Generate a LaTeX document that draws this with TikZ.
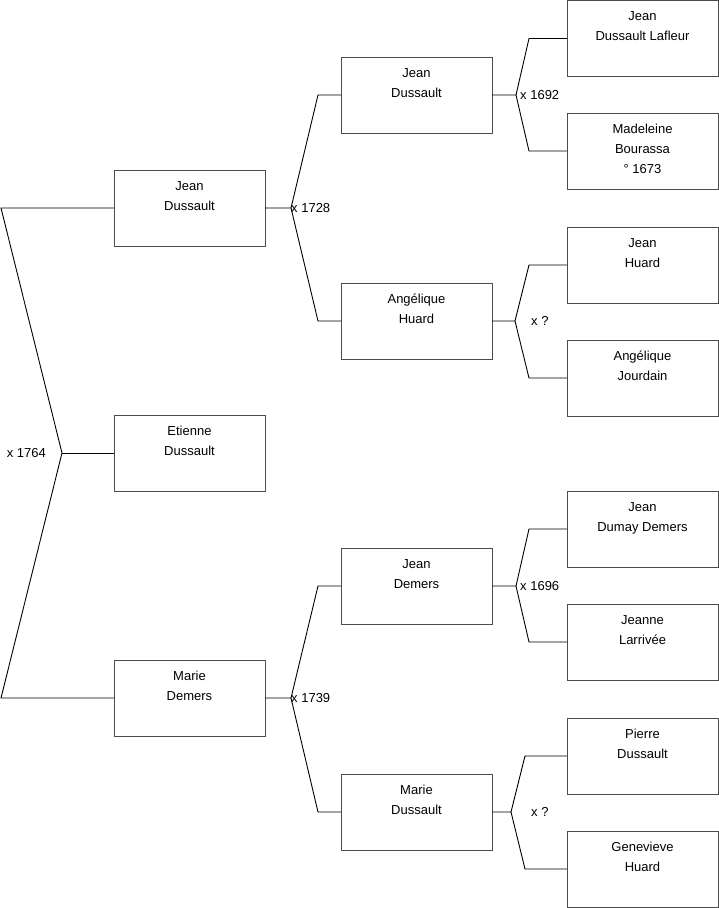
\documentclass[tikz,border=0pt]{standalone}
\usepackage{fontspec}
\setmainfont{Liberation Sans}
\newcommand\pcontent[1]{\parbox[t][76pt][t]{151pt}{\centering\rule{0pt}{20pt}#1}}
\begin{document}
\begin{tikzpicture}[x=1pt,y=-1pt,
  person/.style={draw=black!70, line width=1pt, inner sep=0pt, outer sep=0pt, anchor=north west,
                 font=\fontsize{13}{20}\selectfont},
  link/.style={draw=black, line width=0.9pt, line join=miter},
  mlabel/.style={font=\fontsize{13}{15}\selectfont, inner sep=0pt}]
\useasboundingbox (0,0) rectangle (719,908);

% generation 1
\node[person] (g1a) at (114,170) {\pcontent{Jean\\Dussault}};
\node[person] (g1e) at (114,415) {\pcontent{Etienne\\Dussault}};
\node[person] (g1m) at (114,660) {\pcontent{Marie\\Demers}};
% generation 2
\node[person] (g2a) at (341,57)  {\pcontent{Jean\\Dussault}};
\node[person] (g2b) at (341,283) {\pcontent{Angélique\\Huard}};
\node[person] (g2c) at (341,548) {\pcontent{Jean\\Demers}};
\node[person] (g2d) at (341,774) {\pcontent{Marie\\Dussault}};
% generation 3
\node[person] (g3a) at (567,0.5) {\pcontent{Jean\\Dussault Lafleur}};
\node[person] (g3b) at (567,113) {\pcontent{Madeleine\\Bourassa\\° 1673}};
\node[person] (g3c) at (567,227) {\pcontent{Jean\\Huard}};
\node[person] (g3d) at (567,340) {\pcontent{Angélique\\Jourdain}};
\node[person] (g3e) at (567,491) {\pcontent{Jean\\Dumay Demers}};
\node[person] (g3f) at (567,604) {\pcontent{Jeanne\\Larrivée}};
\node[person] (g3g) at (567,718) {\pcontent{Pierre\\Dussault}};
\node[person] (g3h) at (567,831) {\pcontent{Genevieve\\Huard}};

% junction points
\coordinate (v0)  at ([xshift=-52pt]g1e.west);
\coordinate (v0a) at ([xshift=-113pt]g1a.west);
\coordinate (v0b) at ([xshift=-113pt]g1m.west);
\coordinate (v1) at ([xshift=26pt]g1a.east);
\coordinate (v2) at ([xshift=26pt]g1m.east);
\coordinate (v3) at ([xshift=24pt]g2a.east);
\coordinate (v4) at ([xshift=23pt]g2b.east);
\coordinate (v5) at ([xshift=24pt]g2c.east);
\coordinate (v6) at ([xshift=19pt]g2d.east);

% main couple
\draw[link] (g1a.west) -- (v0a) -- (v0) -- (v0b) -- (g1m.west);
\draw[link] (v0) -- (g1e.west);
\node[mlabel, anchor=east] at ([xshift=-16pt]v0) {x 1764};

% Jean Dussault's parents
\draw[link] (g1a.east) -- (v1) -- ([xshift=-23pt]g2a.west) -- (g2a.west);
\draw[link] (v1) -- ([xshift=-23pt]g2b.west) -- (g2b.west);
\node[mlabel, anchor=west] at (v1) {x 1728};

% Marie Demers' parents
\draw[link] (g1m.east) -- (v2) -- ([xshift=-23pt]g2c.west) -- (g2c.west);
\draw[link] (v2) -- ([xshift=-23pt]g2d.west) -- (g2d.west);
\node[mlabel, anchor=west] at (v2) {x 1739};

% generation 3 links
\draw[link] (g2a.east) -- (v3) -- ([xshift=-38pt]g3a.west) -- (g3a.west);
\draw[link] (v3) -- ([xshift=-38pt]g3b.west) -- (g3b.west);
\node[mlabel, anchor=west] at ([xshift=4pt]v3) {x 1692};

\draw[link] (g2b.east) -- (v4) -- ([xshift=-38pt]g3c.west) -- (g3c.west);
\draw[link] (v4) -- ([xshift=-38pt]g3d.west) -- (g3d.west);
\node[mlabel, anchor=west] at ([xshift=16pt]v4) {x ?};

\draw[link] (g2c.east) -- (v5) -- ([xshift=-38pt]g3e.west) -- (g3e.west);
\draw[link] (v5) -- ([xshift=-38pt]g3f.west) -- (g3f.west);
\node[mlabel, anchor=west] at ([xshift=4pt]v5) {x 1696};

\draw[link] (g2d.east) -- (v6) -- ([xshift=-42pt]g3g.west) -- (g3g.west);
\draw[link] (v6) -- ([xshift=-42pt]g3h.west) -- (g3h.west);
\node[mlabel, anchor=west] at ([xshift=20pt]v6) {x ?};
\end{tikzpicture}
\end{document}
